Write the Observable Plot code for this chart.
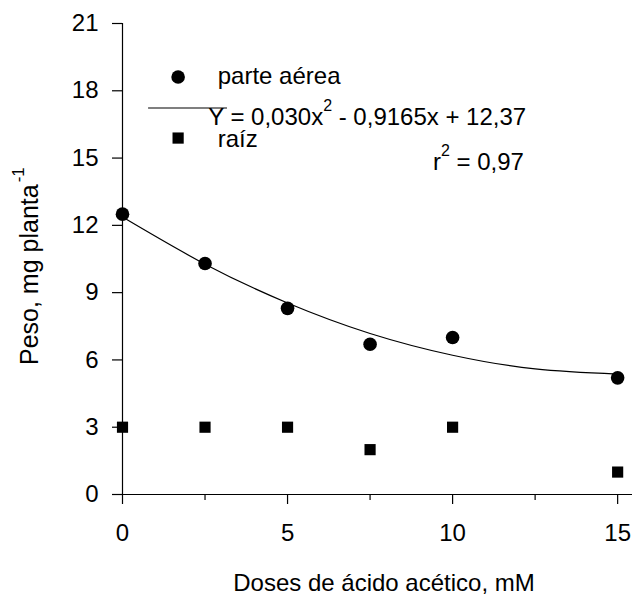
<!DOCTYPE html>
<html>
<head>
<meta charset="utf-8">
<script src="https://cdn.jsdelivr.net/npm/d3@7"></script>
<script src="https://cdn.jsdelivr.net/npm/@observablehq/plot@0.6"></script>
<style>
  html, body { margin: 0; padding: 0; background: white; }
  #chart svg { display: block; }
</style>
</head>
<body>
<div id="chart"></div>
<script>
// Data
const doses = [0, 2.5, 5, 7.5, 10, 15];
const parteAerea = [12.5, 10.3, 8.3, 6.7, 7.0, 5.2];
const raiz = [3, 3, 3, 2, 3, 1];
// Fitted curve
const fitX = [0, 2.5, 5, 7.5, 10, 12.5, 15];
const fitY = [12.37, 10.27, 8.54, 7.18, 6.21, 5.60, 5.37];
// Ticks
const yTicks = [0, 3, 6, 9, 12, 15, 18, 21];
const xMajorTicks = [0, 5, 10, 15];
const xMinorTicks = [2.5, 7.5, 12.5];
// Texts
const legendAerea = "parte aérea";
const legendRaiz = "raíz";
const xLabel = "Doses de ácido acético, mM";

const table = doses.map((d, i) => ({dose: d, aerea: parteAerea[i], raiz: raiz[i]}));
const fit = fitX.map((d, i) => ({dose: d, y: fitY[i]}));

const FONT = "'Liberation Sans', Arial, Helvetica, sans-serif";
const FS = 24;

const plot = Plot.plot({
  width: 632,
  height: 596,
  marginLeft: 122,
  marginRight: 0,
  marginTop: 23,
  marginBottom: 102,
  x: {domain: [0, 15.45]},
  y: {domain: [0, 21]},
  style: {fontFamily: FONT, fontSize: FS + "px", color: "black", background: "white", overflow: "visible"},
  marks: [
    Plot.ruleY([0], {stroke: "black", strokeWidth: 1.2}),
    Plot.ruleX([0], {stroke: "black", strokeWidth: 1.2}),
    Plot.axisY(yTicks, {tickSize: 10, tickPadding: 14, label: null, stroke: "black", strokeWidth: 1.2, fontSize: FS}),
    Plot.axisX(xMajorTicks, {tickSize: 10, tickPadding: 19, label: null, stroke: "black", strokeWidth: 1.2, fontSize: FS}),
    Plot.axisX(xMinorTicks, {tickSize: 6, text: null, label: null, stroke: "black", strokeWidth: 1.2}),
    Plot.line(fit, {x: "dose", y: "y", curve: "natural", stroke: "black", strokeWidth: 1.2}),
    Plot.dot(table, {x: "dose", y: "aerea", r: 6.8, fill: "black", stroke: null}),
    Plot.dot(table, {x: "dose", y: "raiz", symbol: "square", r: 6.3, fill: "black", stroke: null})
  ]
});

document.getElementById("chart").appendChild(plot);

// Legend, equation and axis titles
const sx = plot.scale("x"), sy = plot.scale("y");
const svg = d3.select(plot);
const g = svg.append("g")
  .attr("font-family", FONT)
  .attr("font-size", FS)
  .attr("fill", "black")
  .attr("text-anchor", "start");

// legend: parte aérea
g.append("circle").attr("cx", sx.apply(1.70)).attr("cy", sy.apply(18.59)).attr("r", 6.8).attr("fill", "black");
g.append("text").attr("text-anchor", "start").attr("x", sx.apply(2.90)).attr("y", sy.apply(18.28)).text(legendAerea);

// legend: regression line + equation
g.append("line")
  .attr("x1", sx.apply(0.79)).attr("x2", sx.apply(3.18))
  .attr("y1", sy.apply(17.21)).attr("y2", sy.apply(17.21))
  .attr("stroke", "black").attr("stroke-width", 1.2);
const eq = g.append("text").attr("text-anchor", "start").attr("x", sx.apply(2.61)).attr("y", sy.apply(16.45));
eq.append("tspan").text("Y = 0,030x");
eq.append("tspan").attr("font-size", 16).attr("dy", -14).text("2");
eq.append("tspan").attr("dy", 14).text(" - 0,9165x + 12,37");

// legend: raíz
g.append("rect")
  .attr("x", sx.apply(1.70) - 5.6).attr("y", sy.apply(15.87) - 5.6)
  .attr("width", 11.2).attr("height", 11.2).attr("fill", "black");
g.append("text").attr("text-anchor", "start").attr("x", sx.apply(2.90)).attr("y", sy.apply(15.47)).text(legendRaiz);

// r²
const r2 = g.append("text").attr("text-anchor", "start").attr("x", sx.apply(9.42)).attr("y", sy.apply(14.45));
r2.append("tspan").text("r");
r2.append("tspan").attr("font-size", 16).attr("dy", -14).text("2");
r2.append("tspan").attr("dy", 14).text(" = 0,97");

// x axis title
g.append("text")
  .attr("x", 384).attr("y", 591)
  .attr("text-anchor", "middle")
  .attr("font-size", 24)
  .text(xLabel);

// y axis title
const yl = g.append("text")
  .attr("transform", "translate(38,365) rotate(-90)")
  .attr("text-anchor", "start")
  .attr("font-size", 25);
yl.append("tspan").text("Peso, mg planta");
yl.append("tspan").attr("font-size", 17).attr("dx", 2).attr("dy", -14).text("-1");
</script>
</body>
</html>
